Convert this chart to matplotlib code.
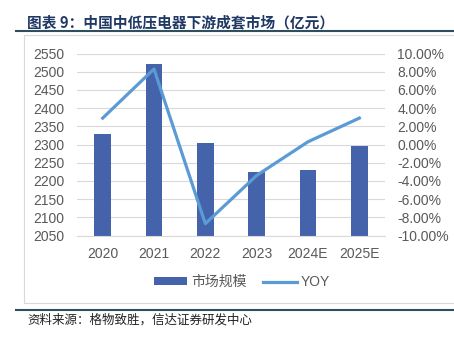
import matplotlib
matplotlib.use('Agg')
import matplotlib.pyplot as plt
from matplotlib.patches import Rectangle
from matplotlib.lines import Line2D
from matplotlib.ticker import FuncFormatter

plt.rcParams['font.family'] = ['Liberation Sans', 'Noto Sans CJK SC', 'DejaVu Sans']

years = ['2020', '2021', '2022', '2023', '2024E', '2025E']
market_size = [2329, 2520, 2303, 2224, 2230, 2296]
yoy = [2.9, 8.3, -8.7, -3.4, 0.3, 2.9]

bar_color = '#4563AA'
line_color = '#5B9BD5'
tick_color = '#595959'

W, H = 454, 342
fig = plt.figure(figsize=(W / 100, H / 100), dpi=100)

# title and frame lines
fig.text(27 / W, 1 - 22 / H, '图表 9：中国中低压电器下游成套市场（亿元）',
         fontsize=10.6, fontweight='bold', color='#1F3864',
         family=['Noto Sans CJK SC', 'DejaVu Sans'], va='center', ha='left')
fig.add_artist(Line2D([16 / W, 1], [1 - 31 / H] * 2, color='#2F4F5F', lw=1.5))
fig.add_artist(Rectangle((24 / W, 1 - 303 / H), 1, (303 - 35) / H, fill=False,
                         edgecolor='#D9D9D9', lw=0.8))
fig.add_artist(Line2D([16 / W, 1], [1 - 310 / H] * 2, color='#2F4F5F', lw=1.5))
fig.text(27 / W, 1 - 320 / H, '资料来源：格物致胜，信达证券研发中心',
         fontsize=9, color='#222222',
         family=['Noto Sans CJK SC', 'DejaVu Sans'], va='center', ha='left')

ax = fig.add_axes([77 / W, 1 - 235.5 / H, (385 - 77) / W, (235.5 - 53.5) / H])
x = range(len(years))
ax.bar(x, market_size, width=0.33, color=bar_color, label='市场规模', zorder=2)
ax.set_ylim(2050, 2550)
ax.set_yticks(range(2050, 2551, 50))
ax.set_xlim(-0.5, len(years) - 0.5)
ax.set_xticks(list(x))
ax.set_xticklabels(years)
ax.grid(axis='y', color='#D9D9D9', lw=0.8, zorder=0)
for s in ['top', 'right', 'left']:
    ax.spines[s].set_visible(False)
ax.spines['bottom'].set_color('#D9D9D9')
ax.tick_params(axis='both', length=0, labelsize=10, colors=tick_color)
ax.tick_params(axis='y', pad=9)
ax.tick_params(axis='x', pad=8)

ax2 = ax.twinx()
ax2.plot(x, yoy, color=line_color, lw=2.3, label='YOY', zorder=3)
ax2.set_ylim(-10, 10)
ax2.set_yticks(range(-10, 11, 2))
ax2.yaxis.set_major_formatter(FuncFormatter(lambda v, p: f'{v:.2f}%'))
for s in ax2.spines.values():
    s.set_visible(False)
ax2.tick_params(axis='y', length=0, labelsize=10, colors=tick_color, pad=9)

h1, l1 = ax.get_legend_handles_labels()
h2, l2 = ax2.get_legend_handles_labels()
fig.legend(h1 + h2, l1 + l2, loc='center', bbox_to_anchor=(242 / W, 1 - 282 / H),
           ncol=2, frameon=False, fontsize=10, labelcolor=tick_color,
           handlelength=2.4, handleheight=0.5, columnspacing=1.2, handletextpad=0.3)

fig.savefig('out.png', dpi=100)
